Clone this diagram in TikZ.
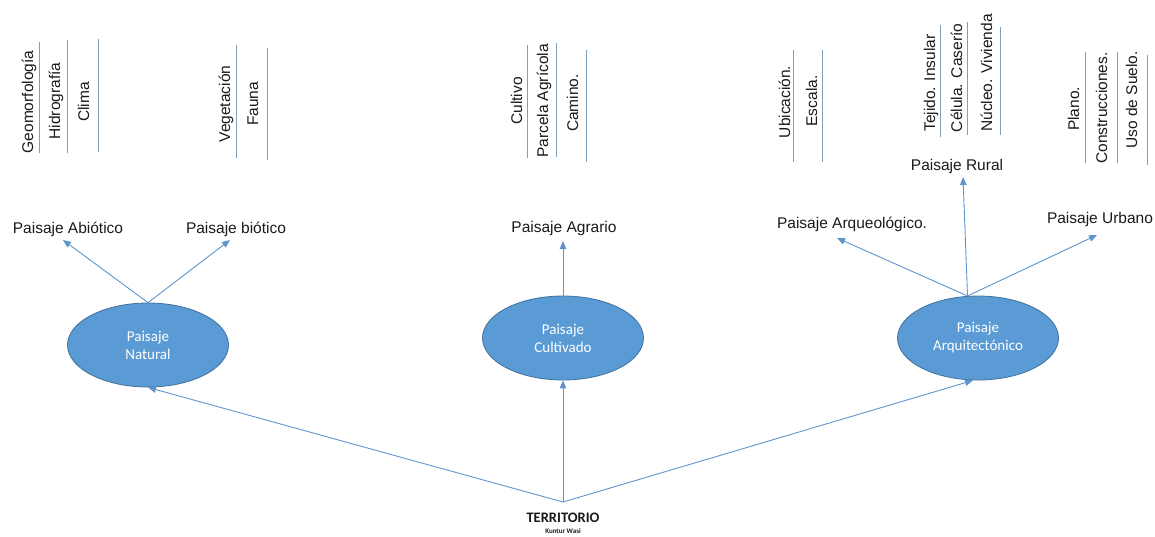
\documentclass[tikz,border=0pt]{standalone}
\usepackage{fontspec}
\setmainfont{Liberation Sans}
\newfontfamily\calib{Carlito}
\usetikzlibrary{arrows.meta,shapes.geometric}
\definecolor{ellfill}{HTML}{5B9BD5}
\definecolor{elledge}{HTML}{41719C}
\definecolor{arrcol}{HTML}{5E95CC}
\definecolor{rulecol}{HTML}{7F9FBF}
\definecolor{txt}{HTML}{1A1A1A}
\begin{document}
\begin{tikzpicture}[x=1pt,y=-1pt,
  ell/.style={ellipse, fill=ellfill, draw=elledge, line width=0.8pt,
    minimum width=161pt, minimum height=84pt, inner sep=0pt,
    text=white, font=\calib\fontsize{15}{18}\selectfont, align=center},
  lab/.style={inner sep=0pt, anchor=base, text=txt, font=\fontsize{15.5}{18}\selectfont},
  vtxt/.style={lab, rotate=90},
  arr/.style={draw=arrcol, line width=0.9pt, -{Triangle[length=8pt,width=6.5pt]}},
  rl/.style={draw=rulecol, line width=0.8pt}]
\useasboundingbox (0,0) rectangle (1155,536);

% ellipses
\node[ell] (nat) at (148,345) {Paisaje\\Natural};
\node[ell] (cul) at (563,338) {Paisaje\\Cultivado};
\node[ell] (arq) at (978,338) {Paisaje\\Arquitect\'onico};

% territorio
\coordinate (apex) at (563,502);
\node[inner sep=0pt, anchor=base, text=txt, font=\calib\bfseries\fontsize{14.5}{16}\selectfont] (ter) at (563,522) {TERRITORIO};
\node[inner sep=0pt, anchor=base, text=txt, font=\calib\bfseries\fontsize{7}{8}\selectfont] (kw) at (563,533) {Kuntur Wasi};

% level-2 labels
\node[lab] (abio) at (68,233) {Paisaje Abi\'otico};
\node[lab] (bio) at (236,233) {Paisaje bi\'otico};
\node[lab] (agr) at (564,232) {Paisaje Agrario};
\node[lab] (arqe) at (852,228) {Paisaje Arqueol\'ogico.};
\node[lab] (urb) at (1100,223) {Paisaje Urbano};
\node[lab] (rur) at (957,170) {Paisaje Rural};

% arrows from territorio
\draw[arr] (apex) -- (nat.south);
\draw[arr] (apex) -- (cul.south);
\draw[arr] (apex) -- ([xshift=-5pt]arq.south);

% arrows from ellipses
\draw[arr] (nat.north) -- ([xshift=-5pt,yshift=-7pt]abio.base);
\draw[arr] (nat.north) -- ([xshift=-6pt,yshift=-7pt]bio.base);
\draw[arr] (cul.north) -- ([xshift=-1pt,yshift=-9pt]agr.base);
\draw[arr] (arq.104) -- ([xshift=-15pt,yshift=-10pt]arqe.base);
\draw[arr] (arq.104) -- ([xshift=-3pt,yshift=-12pt]urb.base);
\draw[arr] (arq.104) -- ([xshift=6pt,yshift=-7pt]rur.base);

% vertical texts
\node[vtxt] (t1) at (33,102) {Geomorfolog\'ia};
\node[vtxt] (t2) at (60,101) {Hidrograf\'ia};
\node[vtxt] (t3) at (89,102) {Clima};
\node[vtxt] (t4) at (230,104) {Vegetaci\'on};
\node[vtxt] (t5) at (258,104) {Fauna};
\node[vtxt] (t6) at (522,101) {Cultivo};
\node[vtxt] (t7) at (548,101) {Parcela Agr\'icola};
\node[vtxt] (t8) at (578,103) {Camino.};
\node[vtxt] (t9) at (790,102) {Ubicaci\'on.};
\node[vtxt] (t10) at (817,101) {Escala.};
\node[vtxt] (t11) at (935,83) {Tejido. Insular};
\node[vtxt] (t12) at (962,78) {C\'elula. Caser\'io};
\node[vtxt] (t13) at (992,73) {N\'ucleo. Vivienda};
\node[vtxt] (t14) at (1079,109) {Plano.};
\node[vtxt] (t15) at (1107,108) {Construcciones.};
\node[vtxt] (t16) at (1137,100) {Uso de Suelo.};

% rules beside the vertical texts
\draw[rl] (39,42) -- (39,153);
\draw[rl] (67,40) -- (67,153);
\draw[rl] (98,39) -- (98,152);
\draw[rl] (236,45) -- (236,158);
\draw[rl] (267,48) -- (267,160);
\draw[rl] (527,45) -- (527,158);
\draw[rl] (556,43) -- (556,157);
\draw[rl] (586,50) -- (586,162);
\draw[rl] (793,50) -- (793,162);
\draw[rl] (822,50) -- (822,162);
\draw[rl] (940,25) -- (940,137);
\draw[rl] (967,22) -- (967,135);
\draw[rl] (1000,27) -- (1000,135);
\draw[rl] (1085,52) -- (1085,163);
\draw[rl] (1117,52) -- (1117,163);
\draw[rl] (1147,55) -- (1147,165);
\end{tikzpicture}
\end{document}
